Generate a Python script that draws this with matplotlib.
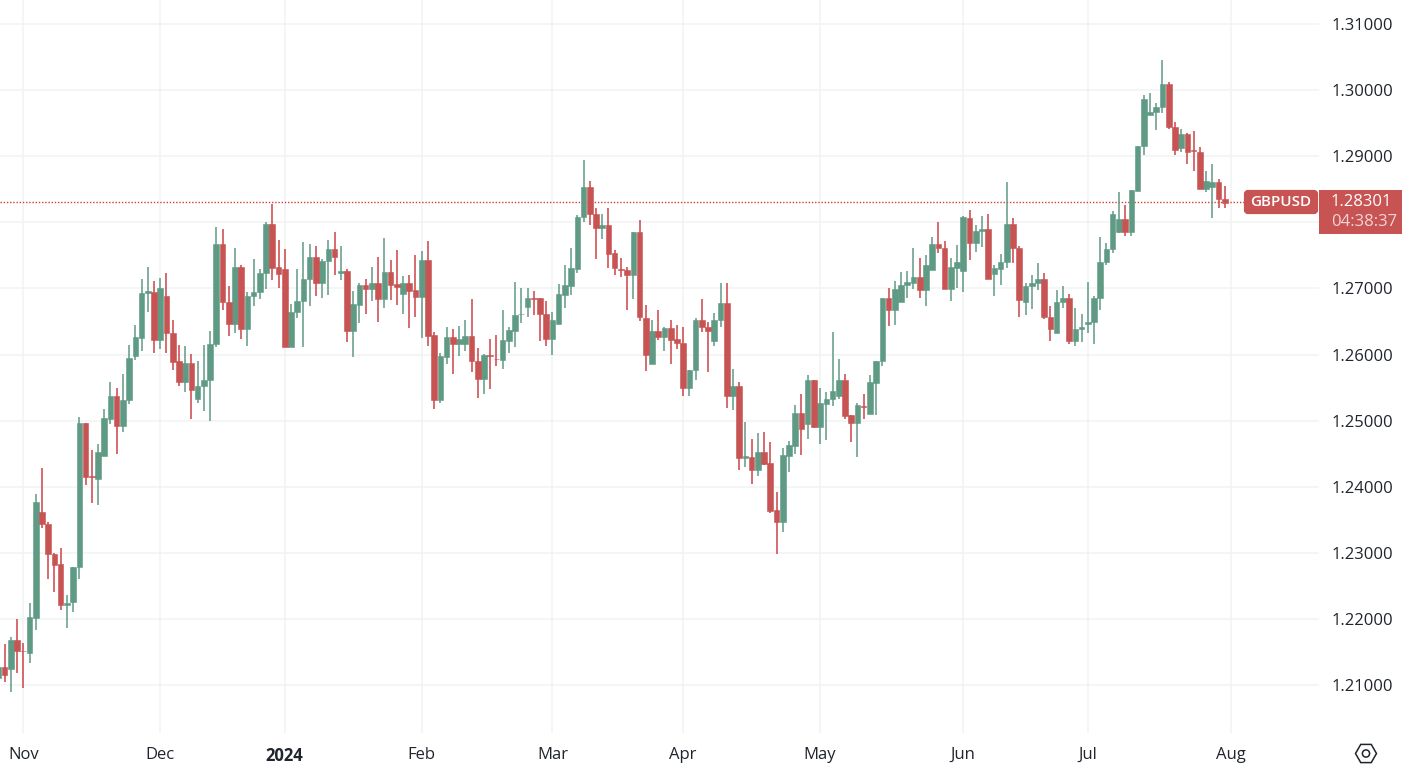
import numpy as np
import matplotlib
matplotlib.use("Agg")
import matplotlib.pyplot as plt
from matplotlib.patches import Rectangle, FancyBboxPatch, RegularPolygon, Circle

first_bar = -4  # bar 0 is 1 Nov 2023, weekdays only

opens = [
    1.2110,1.2127,1.2125,1.2168,1.2152,1.2149,1.2202,1.2362,1.2343,1.2299,
    1.2283,1.2221,1.2225,1.2278,1.2497,1.2416,1.2412,1.2447,1.2503,1.2538,
    1.2492,1.2531,1.2598,1.2625,1.2693,1.2694,1.2622,1.2689,1.2632,1.2590,
    1.2559,1.2587,1.2533,1.2553,1.2562,1.2616,1.2767,1.2679,1.2647,1.2732,
    1.2638,1.2688,1.2695,1.2724,1.2797,1.2732,1.2729,1.2612,1.2664,1.2681,
    1.2715,1.2747,1.2709,1.2742,1.2760,1.2723,1.2726,1.2635,1.2675,1.2705,
    1.2699,1.2708,1.2684,1.2725,1.2707,1.2691,1.2708,1.2697,1.2687,1.2743,
    1.2629,1.2531,1.2596,1.2626,1.2616,1.2616,1.2628,1.2591,1.2563,1.2599,
    1.2594,1.2592,1.2621,1.2636,1.2661,1.2672,1.2685,1.2685,1.2661,1.2624,
    1.2647,1.2690,1.2704,1.2729,1.2808,1.2854,1.2813,1.2791,1.2796,1.2753,
    1.2729,1.2728,1.2720,1.2785,1.2656,1.2586,1.2635,1.2626,1.2640,1.2623,
    1.2617,1.2550,1.2577,1.2652,1.2642,1.2620,1.2653,1.2678,1.2538,1.2552,
    1.2444,1.2445,1.2425,1.2452,1.2436,1.2365,1.2347,1.2447,1.2462,1.2512,
    1.2495,1.2562,1.2490,1.2525,1.2533,1.2538,1.2561,1.2508,1.2496,1.2522,
    1.2510,1.2557,1.2590,1.2685,1.2668,1.2680,1.2705,1.2709,1.2717,1.2697,
    1.2728,1.2768,1.2761,1.2699,1.2731,1.2726,1.2807,1.2769,1.2787,1.2790,
    1.2722,1.2730,1.2740,1.2797,1.2761,1.2680,1.2704,1.2708,1.2715,1.2657,
    1.2633,1.2679,1.2685,1.2620,1.2639,1.2647,1.2649,1.2685,1.2740,1.2759,
    1.2785,1.2805,1.2786,1.2848,1.2915,1.2963,1.2967,1.2974,1.3010,1.2945,
    1.2913,1.2934,1.2909,1.2907,1.2851,1.2854,1.2861,1.2836,
]
highs = [
    1.2135,1.2162,1.2173,1.2200,1.2163,1.2224,1.2389,1.2428,1.2346,1.2300,
    1.2307,1.2236,1.2278,1.2505,1.2497,1.2455,1.2464,1.2518,1.2559,1.2549,
    1.2570,1.2614,1.2645,1.2715,1.2733,1.2711,1.2716,1.2724,1.2652,1.2614,
    1.2613,1.2601,1.2590,1.2614,1.2635,1.2793,1.2790,1.2704,1.2761,1.2735,
    1.2695,1.2744,1.2730,1.2801,1.2828,1.2773,1.2759,1.2676,1.2729,1.2771,
    1.2767,1.2765,1.2745,1.2774,1.2786,1.2765,1.2729,1.2696,1.2708,1.2715,
    1.2733,1.2747,1.2776,1.2743,1.2758,1.2719,1.2721,1.2750,1.2756,1.2772,
    1.2634,1.2603,1.2642,1.2638,1.2643,1.2653,1.2684,1.2610,1.2601,1.2624,
    1.2629,1.2668,1.2642,1.2710,1.2701,1.2700,1.2696,1.2686,1.2681,1.2664,
    1.2707,1.2735,1.2761,1.2811,1.2894,1.2862,1.2822,1.2812,1.2822,1.2758,
    1.2746,1.2732,1.2786,1.2803,1.2675,1.2652,1.2667,1.2641,1.2653,1.2644,
    1.2642,1.2577,1.2656,1.2684,1.2649,1.2663,1.2709,1.2708,1.2578,1.2558,
    1.2498,1.2472,1.2481,1.2483,1.2467,1.2392,1.2458,1.2469,1.2524,1.2541,
    1.2569,1.2562,1.2549,1.2544,1.2634,1.2594,1.2570,1.2509,1.2526,1.2541,
    1.2569,1.2591,1.2686,1.2700,1.2711,1.2725,1.2726,1.2761,1.2746,1.2750,
    1.2778,1.2801,1.2772,1.2746,1.2766,1.2809,1.2818,1.2796,1.2809,1.2813,
    1.2736,1.2752,1.2861,1.2807,1.2764,1.2709,1.2721,1.2739,1.2723,1.2674,
    1.2697,1.2703,1.2692,1.2671,1.2662,1.2710,1.2688,1.2778,1.2769,1.2817,
    1.2846,1.2826,1.2849,1.2916,1.2993,1.2996,1.2981,1.3046,1.3013,1.2952,
    1.2942,1.2935,1.2938,1.2914,1.2877,1.2888,1.2866,1.2855,
]
lows = [
    1.2109,1.2104,1.2089,1.2119,1.2095,1.2133,1.2184,1.2338,1.2261,1.2241,
    1.2213,1.2187,1.2210,1.2261,1.2403,1.2376,1.2373,1.2446,1.2495,1.2449,
    1.2483,1.2525,1.2592,1.2606,1.2665,1.2603,1.2609,1.2603,1.2577,1.2552,
    1.2544,1.2502,1.2527,1.2514,1.2500,1.2611,1.2668,1.2628,1.2633,1.2624,
    1.2613,1.2674,1.2684,1.2699,1.2713,1.2700,1.2611,1.2611,1.2656,1.2612,
    1.2674,1.2689,1.2686,1.2690,1.2721,1.2713,1.2619,1.2597,1.2648,1.2661,
    1.2681,1.2649,1.2671,1.2682,1.2675,1.2661,1.2640,1.2657,1.2625,1.2613,
    1.2518,1.2527,1.2586,1.2571,1.2598,1.2606,1.2573,1.2535,1.2541,1.2548,
    1.2583,1.2578,1.2602,1.2611,1.2648,1.2657,1.2660,1.2621,1.2613,1.2599,
    1.2647,1.2671,1.2690,1.2723,1.2801,1.2796,1.2745,1.2775,1.2731,1.2720,
    1.2717,1.2667,1.2684,1.2651,1.2575,1.2586,1.2622,1.2605,1.2586,1.2609,
    1.2538,1.2538,1.2562,1.2634,1.2573,1.2613,1.2642,1.2519,1.2516,1.2426,
    1.2430,1.2404,1.2417,1.2433,1.2361,1.2298,1.2332,1.2422,1.2449,1.2448,
    1.2473,1.2489,1.2465,1.2471,1.2522,1.2533,1.2502,1.2467,1.2445,1.2502,
    1.2510,1.2509,1.2582,1.2643,1.2645,1.2680,1.2685,1.2699,1.2685,1.2674,
    1.2728,1.2754,1.2699,1.2681,1.2700,1.2695,1.2743,1.2755,1.2762,1.2714,
    1.2689,1.2706,1.2731,1.2739,1.2657,1.2660,1.2669,1.2697,1.2654,1.2620,
    1.2633,1.2671,1.2616,1.2613,1.2619,1.2633,1.2616,1.2668,1.2735,1.2753,
    1.2784,1.2779,1.2780,1.2848,1.2902,1.2963,1.2939,1.2965,1.2941,1.2902,
    1.2906,1.2889,1.2878,1.2851,1.2846,1.2807,1.2821,1.2822,
]
closes = [
    1.2127,1.2115,1.2168,1.2151,1.2151,1.2203,1.2377,1.2343,1.2299,1.2282,
    1.2221,1.2224,1.2278,1.2497,1.2415,1.2415,1.2453,1.2504,1.2538,1.2492,
    1.2531,1.2595,1.2626,1.2693,1.2696,1.2622,1.2701,1.2632,1.2589,1.2559,
    1.2587,1.2546,1.2553,1.2562,1.2616,1.2767,1.2679,1.2647,1.2732,1.2638,
    1.2688,1.2695,1.2724,1.2797,1.2731,1.2722,1.2612,1.2664,1.2681,1.2715,
    1.2747,1.2709,1.2742,1.2760,1.2747,1.2726,1.2635,1.2676,1.2705,1.2699,
    1.2708,1.2684,1.2725,1.2705,1.2702,1.2708,1.2696,1.2687,1.2743,1.2628,
    1.2531,1.2598,1.2626,1.2616,1.2624,1.2628,1.2590,1.2563,1.2599,1.2598,
    1.2593,1.2622,1.2637,1.2660,1.2662,1.2685,1.2684,1.2661,1.2624,1.2653,
    1.2691,1.2705,1.2731,1.2808,1.2854,1.2813,1.2791,1.2796,1.2752,1.2731,
    1.2728,1.2720,1.2785,1.2657,1.2599,1.2635,1.2626,1.2640,1.2622,1.2617,
    1.2550,1.2577,1.2652,1.2642,1.2635,1.2653,1.2678,1.2538,1.2552,1.2444,
    1.2446,1.2425,1.2452,1.2434,1.2363,1.2347,1.2448,1.2463,1.2512,1.2487,
    1.2562,1.2490,1.2526,1.2533,1.2545,1.2561,1.2507,1.2496,1.2523,1.2520,
    1.2558,1.2591,1.2685,1.2668,1.2699,1.2706,1.2710,1.2717,1.2697,1.2735,
    1.2768,1.2761,1.2699,1.2732,1.2740,1.2808,1.2769,1.2787,1.2790,1.2714,
    1.2731,1.2740,1.2797,1.2761,1.2683,1.2703,1.2708,1.2715,1.2657,1.2639,
    1.2679,1.2685,1.2620,1.2639,1.2641,1.2650,1.2685,1.2740,1.2759,1.2813,
    1.2805,1.2786,1.2849,1.2916,1.2987,1.2967,1.2975,1.3010,1.2945,1.2910,
    1.2934,1.2907,1.2908,1.2851,1.2863,1.2861,1.2835,1.2830,
]

month_bars = [0, 22, 42, 64, 85, 106, 128, 151, 171, 194]
month_labels = ["Nov", "Dec", "2024", "Feb", "Mar", "Apr", "May", "Jun", "Jul", "Aug"]
price_ticks = [1.21, 1.22, 1.23, 1.24, 1.25, 1.26, 1.27, 1.28, 1.29, 1.30, 1.31]
last_price = 1.28301
symbol = "GBPUSD"
countdown = "04:38:37"

W, H = 1402, 774
GREEN = "#5f9a85"
RED = "#c85353"
RED_WICK = "#cb4348"
GRID = "#f1f2f3"
TEXT = "#20242c"

plt.rcParams["font.family"] = ["Open Sans", "DejaVu Sans"]

fig = plt.figure(figsize=(W / 100, H / 100), dpi=100)
ax = fig.add_axes([0, (H - 733) / H, 1319 / W, 733 / H])

o = np.array(opens)
h = np.array(highs)
l = np.array(lows)
c = np.array(closes)
x = np.arange(len(o)) + first_bar
up = c >= o

ax.vlines(x[up], l[up], h[up], color=GREEN, lw=1.1, zorder=3)
ax.vlines(x[~up], l[~up], h[~up], color=RED_WICK, lw=1.1, zorder=3)
ax.bar(x[up], (c - o)[up], bottom=o[up], width=0.9, color=GREEN,
       edgecolor=GREEN, lw=0.4, zorder=4)
ax.bar(x[~up], (c - o)[~up], bottom=o[~up], width=0.9, color=RED,
       edgecolor=RED, lw=0.4, zorder=4)

ax.axhline(last_price, color="#d23c3c", lw=1.0, ls=(0, (1, 1.3)), zorder=2)

ax.set_xlim(-23.3 / 6.225, (1319 - 23.3) / 6.225)
ax.set_ylim(1.20275, 1.31364)
ax.set_xticks(month_bars)
ax.set_xticklabels(month_labels)
ax.set_yticks(price_ticks)
# the 1.28000 label sits behind the last price box, so the scale leaves it out
ax.set_yticklabels(["" if p == 1.28 else "%.5f" % p for p in price_ticks])
ax.yaxis.tick_right()
ax.tick_params(axis="both", length=0, labelsize=12, labelcolor=TEXT)
ax.tick_params(axis="x", pad=10)
ax.tick_params(axis="y", pad=9)
ax.get_xticklabels()[2].set_fontweight("bold")
ax.grid(True, color=GRID, lw=1.1, zorder=0)
ax.set_axisbelow(True)
for s in ax.spines.values():
    s.set_visible(False)

# price scale overlay, in pixels of the screenshot
over = fig.add_axes([0, 0, 1, 1], facecolor="none")
over.set_xlim(0, W)
over.set_ylim(H, 0)
over.axis("off")
over.add_patch(FancyBboxPatch((1246, 192), 70, 20, boxstyle="round,pad=0,rounding_size=2",
                              mutation_aspect=1, fc=RED, ec=RED, lw=3))
over.add_patch(Rectangle((1319, 190), 83, 43.5, fc=RED, ec="none"))
over.text(1281, 202, symbol, color="white", fontsize=11, fontweight="semibold", ha="center", va="center")
over.text(1361, 202, "%.5f" % last_price, color="white", fontsize=12, ha="center", va="center")
over.text(1364, 222, countdown, color="#f0d5d5", fontsize=12, ha="center", va="center")
over.add_patch(RegularPolygon((1366, 753.5), 6, radius=10.5, orientation=np.pi / 2,
                              fc="none", ec=TEXT, lw=1.1))
over.add_patch(Circle((1366, 753.5), 3.6, fc="none", ec=TEXT, lw=1.1))

fig.savefig("out.png", dpi=100)
